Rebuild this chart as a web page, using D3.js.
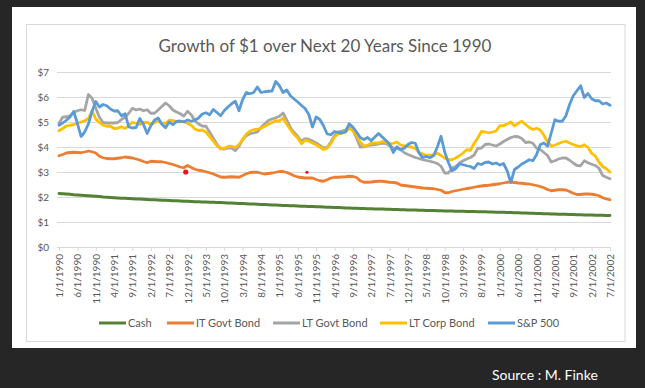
<!DOCTYPE html>
<html><head><meta charset="utf-8">
<script src="https://cdn.jsdelivr.net/npm/d3@7"></script>
<style>html,body{margin:0;padding:0;background:#262626;}svg{display:block;}</style>
</head><body>
<svg id="c" width="645" height="388"></svg>
<script>
const title = "Growth of $1 over Next 20 Years Since 1990";
const source = "Source : M. Finke";
const seriesNames = ["Cash", "IT Govt Bond", "LT Govt Bond", "LT Corp Bond", "S&P 500"];
const tickLabels = ["1/1/1990","6/1/1990","11/1/1990","4/1/1991","9/1/1991","2/1/1992","7/1/1992","12/1/1992","5/1/1993","10/1/1993","3/1/1994","8/1/1994","1/1/1995","6/1/1995","11/1/1995","4/1/1996","9/1/1996","2/1/1997","7/1/1997","12/1/1997","5/1/1998","10/1/1998","3/1/1999","8/1/1999","1/1/2000","6/1/2000","11/1/2000","4/1/2001","9/1/2001","2/1/2002","7/1/2002"];
const yTicks = [0,1,2,3,4,5,6,7];

const cash = [2.14,2.13,2.12,2.11,2.09,2.08,2.07,2.06,2.05,2.04,2.03,2.02,2.00,
1.99,1.98,1.97,1.96,1.95,1.95,1.94,1.93,1.92,1.92,1.91,1.90,
1.89,1.89,1.88,1.87,1.87,1.86,1.85,1.85,1.84,1.83,1.83,1.82,
1.81,1.81,1.80,1.80,1.79,1.79,1.78,1.78,1.77,1.76,1.76,1.75,
1.74,1.74,1.73,1.72,1.72,1.71,1.70,1.70,1.69,1.68,1.68,1.67,
1.66,1.66,1.65,1.65,1.64,1.63,1.63,1.62,1.62,1.61,1.61,1.60,
1.59,1.59,1.58,1.58,1.57,1.56,1.56,1.55,1.55,1.54,1.54,1.53,
1.53,1.52,1.52,1.52,1.51,1.51,1.50,1.50,1.49,1.49,1.48,1.48,
1.48,1.47,1.47,1.46,1.46,1.46,1.45,1.45,1.44,1.44,1.44,1.43,
1.43,1.43,1.42,1.42,1.42,1.41,1.41,1.41,1.40,1.40,1.39,1.39,
1.39,1.38,1.38,1.37,1.37,1.36,1.36,1.35,1.35,1.34,1.34,1.33,
1.33,1.32,1.32,1.31,1.31,1.31,1.30,1.30,1.29,1.29,1.28,1.28,
1.28,1.27,1.27,1.27,1.26,1.26];

const itGovt = [3.65,3.70,3.76,3.78,3.79,3.78,3.77,3.80,3.84,3.81,3.76,3.63,3.57,3.54,3.53,3.53,3.55,3.57,3.60,3.58,
3.56,3.52,3.48,3.42,3.37,3.43,3.42,3.41,3.41,3.38,3.34,3.30,3.25,3.20,3.17,3.26,3.18,3.11,3.07,3.05,
3.01,2.97,2.92,2.86,2.80,2.79,2.80,2.81,2.80,2.79,2.86,2.93,2.98,2.99,2.99,2.95,2.92,2.94,2.96,2.99,
3.02,3.02,2.98,2.92,2.85,2.80,2.78,2.76,2.76,2.76,2.70,2.65,2.63,2.69,2.76,2.79,2.79,2.80,2.81,2.83,
2.82,2.78,2.65,2.59,2.59,2.60,2.62,2.63,2.63,2.61,2.59,2.58,2.56,2.48,2.46,2.44,2.42,2.40,2.38,2.36,
2.35,2.34,2.33,2.30,2.27,2.18,2.17,2.22,2.25,2.28,2.31,2.34,2.36,2.39,2.42,2.44,2.46,2.47,2.49,2.51,
2.53,2.56,2.59,2.60,2.58,2.56,2.55,2.53,2.52,2.49,2.46,2.42,2.37,2.30,2.25,2.27,2.29,2.29,2.28,2.22,
2.15,2.10,2.10,2.12,2.12,2.11,2.09,2.05,1.97,1.92,1.89];

const ltGovt = [4.95,5.19,5.21,5.25,5.38,5.45,5.49,5.46,6.10,5.95,5.56,5.19,4.98,4.96,4.96,4.96,4.98,5.10,5.20,5.35,
5.55,5.48,5.52,5.45,5.49,5.35,5.35,5.48,5.62,5.76,5.65,5.48,5.40,5.33,5.24,5.43,5.29,5.05,4.92,4.84,
4.83,4.60,4.35,4.10,3.93,3.92,3.96,3.96,3.86,4.03,4.30,4.45,4.53,4.56,4.60,4.78,4.93,5.06,5.12,5.17,
5.23,5.36,5.07,4.78,4.58,4.42,4.23,4.33,4.31,4.24,4.16,4.06,3.96,3.98,4.20,4.45,4.61,4.64,4.68,4.87,
4.68,4.35,4.00,4.01,4.05,4.08,4.10,4.12,4.15,4.14,4.05,3.97,3.93,3.89,3.77,3.70,3.64,3.58,3.54,3.49,
3.46,3.43,3.39,3.34,3.23,2.96,2.96,3.16,3.22,3.35,3.45,3.52,3.58,3.68,3.94,3.96,4.10,4.12,4.08,4.04,
4.12,4.22,4.30,4.38,4.42,4.41,4.34,4.18,4.20,4.15,3.95,3.90,3.78,3.66,3.40,3.45,3.52,3.56,3.56,3.47,
3.36,3.26,3.25,3.45,3.37,3.31,3.26,3.15,2.86,2.79,2.73];

const ltCorp = [4.65,4.74,4.84,4.87,4.89,4.95,5.00,5.05,5.14,5.45,5.12,4.98,4.87,4.83,4.83,4.74,4.75,4.81,4.74,4.86,
4.99,4.95,4.90,4.98,4.99,4.90,4.97,5.05,4.95,4.95,5.07,5.06,5.01,5.01,5.03,4.95,4.87,4.72,4.66,4.68,
4.60,4.42,4.24,4.05,3.95,3.95,4.02,4.03,3.98,4.10,4.30,4.52,4.64,4.69,4.71,4.75,4.83,4.91,4.98,5.05,
5.04,5.16,4.91,4.70,4.50,4.36,4.13,4.27,4.23,4.16,4.09,4.00,3.90,3.95,4.14,4.40,4.52,4.55,4.60,4.75,
4.66,4.45,4.20,4.04,4.07,4.15,4.16,4.16,4.22,4.18,4.12,4.15,4.20,4.08,4.04,4.02,4.00,3.94,3.79,3.72,
3.67,3.67,3.70,3.75,3.66,3.55,3.49,3.49,3.56,3.65,3.76,3.89,3.87,4.15,4.36,4.62,4.60,4.57,4.60,4.64,
4.85,4.85,4.92,5.00,4.84,4.95,5.03,4.90,4.78,4.70,4.75,4.68,4.47,4.20,4.04,4.07,4.14,4.20,4.23,4.16,
4.10,4.04,4.02,4.09,3.98,3.75,3.64,3.40,3.22,3.13,3.00];

const sp500 = [4.87,4.96,5.07,5.20,5.42,4.95,4.42,4.60,4.92,5.43,5.82,5.60,5.70,5.65,5.52,5.44,5.45,5.25,5.33,4.80,
4.76,4.78,5.14,4.90,4.54,4.85,5.08,5.16,4.91,4.77,5.00,4.89,5.02,5.04,5.00,5.08,5.03,5.08,5.16,5.32,
5.37,5.29,5.50,5.38,5.25,5.46,5.60,5.73,5.83,5.45,5.90,6.18,6.13,6.18,6.40,6.18,6.21,6.23,6.24,6.62,
6.45,6.18,6.28,6.05,5.92,5.80,5.66,5.54,5.30,4.80,5.20,5.10,4.85,4.52,4.49,4.62,4.58,4.56,4.60,4.93,
4.80,4.60,4.38,4.30,4.38,4.25,4.40,4.54,4.40,4.26,4.12,3.78,4.01,3.90,3.95,4.10,4.18,4.15,3.76,3.58,
3.62,3.57,3.66,4.00,4.43,3.80,3.38,3.05,3.14,3.32,3.29,3.25,3.22,3.14,3.34,3.30,3.38,3.40,3.32,3.36,
3.28,3.34,3.05,2.58,3.10,3.20,3.32,3.40,3.49,3.45,3.69,4.09,4.16,4.03,4.56,5.09,5.03,5.03,5.25,5.70,
6.05,6.25,6.45,5.98,6.14,5.93,5.85,5.85,5.72,5.76,5.67];

const markIdx = [34.5, 67.5];
const markVal = [3.0, 2.99];

const colors = ["#548235", "#ED7D31", "#A5A5A5", "#FFC000", "#5B9BD5"];
const data = [cash, itGovt, ltGovt, ltCorp, sp500];

const svg = d3.select("#c");
const font = "Lato, 'Open Sans', sans-serif";
const textCol = "#595959";

svg.append("rect").attr("x",0).attr("y",0).attr("width",645).attr("height",388).attr("fill","#262626");
svg.append("rect").attr("x",12).attr("y",7).attr("width",624).attr("height",341).attr("fill","#ffffff");
svg.append("rect").attr("x",26.5).attr("y",24.5).attr("width",598.5).attr("height",317).attr("fill","none").attr("stroke","#d9d9d9").attr("stroke-width",1);

const x = d3.scaleLinear().domain([0, 150]).range([59, 610]);
const y = d3.scaleLinear().domain([0, 7]).range([247, 72]);

// gridlines + y labels
const yAxis = d3.axisLeft(y).tickValues(yTicks).tickSize(-(611-57)).tickFormat(d => "$" + d);
const gy = svg.append("g").attr("transform","translate(57,0)").call(yAxis);
gy.select(".domain").remove();
gy.selectAll(".tick line").attr("stroke","#d9d9d9").attr("stroke-width",1);
gy.selectAll(".tick text").attr("x",-8).attr("fill",textCol).attr("font-family",font).attr("font-size","10px");

// x axis
const tickIdx = tickLabels.map((d,i) => i*5);
const xAxis = d3.axisBottom(x).tickValues(tickIdx).tickSize(4).tickFormat((d,i) => tickLabels[i]);
const gx = svg.append("g").attr("transform","translate(0,247)").call(xAxis);
gx.select(".domain").attr("d","M57,0.5H611").attr("stroke","#d9d9d9");
gx.selectAll(".tick line").attr("stroke","#d9d9d9");
gx.selectAll(".tick text").attr("transform","rotate(-90)").attr("text-anchor","end")
  .attr("x",-7).attr("y",0).attr("dy","0.35em").attr("fill",textCol).attr("font-family",font).attr("font-size","10px");

// lines
const line = d3.line().x((d,i) => x(i)).y(d => y(d));
data.forEach((s, k) => {
  svg.append("path").datum(s).attr("d", line).attr("fill","none")
    .attr("stroke", colors[k]).attr("stroke-width", 2.8)
    .attr("stroke-linejoin","round").attr("stroke-linecap","round");
});

// small red marks
svg.selectAll("circle.mk").data(markIdx).enter().append("circle")
  .attr("cx", d => x(d)).attr("cy", (d,i) => y(markVal[i]))
  .attr("r", (d,i) => i === 0 ? 2.6 : 1.6).attr("fill","#e8141c");

// title
svg.append("text").attr("x",325).attr("y",52).attr("text-anchor","middle")
  .attr("font-family",font).attr("font-size","17px").attr("fill",textCol).text(title);

// legend
const legX = [99, 167, 273, 380, 488];
seriesNames.forEach((n,k) => {
  svg.append("line").attr("x1",legX[k]).attr("x2",legX[k]+27).attr("y1",323).attr("y2",323)
    .attr("stroke",colors[k]).attr("stroke-width",3);
  svg.append("text").attr("x",legX[k]+29).attr("y",323).attr("dy","0.35em")
    .attr("font-family",font).attr("font-size","11px").attr("fill",textCol).text(n);
});

// source
svg.append("text").attr("x",492).attr("y",380).attr("font-family",font)
  .attr("font-size","14px").attr("fill","#ffffff").text(source);
</script>
</body></html>
